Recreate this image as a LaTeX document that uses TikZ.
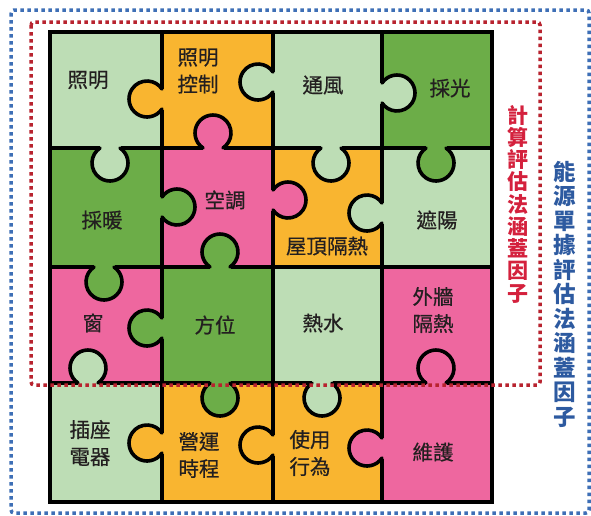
\documentclass[tikz,border=0pt]{standalone}
\usepackage{fontspec}
\setmainfont{Noto Sans CJK TC}
\newfontfamily\cellfont[FakeBold=0.6]{Noto Sans CJK TC}
\usetikzlibrary{calc}
\definecolor{lg}{HTML}{BDDDB5}
\definecolor{dg}{HTML}{6CAD48}
\definecolor{og}{HTML}{F9B530}
\definecolor{pk}{HTML}{EE679F}
\definecolor{txt}{HTML}{231F20}
\definecolor{redtxt}{HTML}{D4213D}
\definecolor{bluetxt}{HTML}{2D5AA0}
\definecolor{reddot}{HTML}{B8232F}
\definecolor{bluedot}{HTML}{3E6FB6}
\newcommand{\knob}[4]{%
  \fill[#4] ($(#1,#2)+(#3:15)$) circle[radius=18];
  \fill[#4] ($(#1,#2)+({#3+90}:10.5)+({#3+180}:2.5)$) -- ($(#1,#2)+({#3-90}:10.5)+({#3+180}:2.5)$)
    -- ($(#1,#2)+({#3-90}:10.5)+(#3:14)$) -- ($(#1,#2)+({#3+90}:10.5)+(#3:14)$) -- cycle;
  \draw[knobline] ($(#1,#2)+(#3:15)+({#3+180+33.56}:18)$)
    arc[start angle={#3+180+33.56}, end angle={#3+540-33.56}, radius=18];
}
\tikzset{
  lbl/.style={font=\cellfont\fontsize{20.5}{27}\selectfont, text=txt, align=center, inner sep=0pt},
  gridline/.style={line width=3.6pt, draw=black},
  knobline/.style={line width=3.6pt, line cap=round, draw=black},
  dotbox/.style={line width=3.5pt, dash pattern=on 3.5pt off 3.5pt, rounded corners=3pt},
}
\begin{document}
\begin{tikzpicture}[x=1pt,y=-1pt]
\useasboundingbox (0,0) rectangle (591,515);
\fill[white] (0,0) rectangle (591,515);
% cells
\fill[lg] (50,32) rectangle (162,148);
\fill[og] (162,32) rectangle (273,148);
\fill[lg] (273,32) rectangle (382,148);
\fill[dg] (382,32) rectangle (492,148);
\fill[dg] (50,148) rectangle (162,267);
\fill[pk] (162,148) rectangle (273,267);
\fill[og] (273,148) rectangle (382,267);
\fill[lg] (382,148) rectangle (492,267);
\fill[pk] (50,267) rectangle (162,383);
\fill[dg] (162,267) rectangle (273,383);
\fill[lg] (273,267) rectangle (382,383);
\fill[pk] (382,267) rectangle (492,383);
\fill[lg] (50,383) rectangle (162,502);
\fill[og] (162,383) rectangle (273,502);
\fill[og] (273,383) rectangle (382,502);
\fill[pk] (382,383) rectangle (492,502);
% grid
\draw[gridline] (162,32) -- (162,502);
\draw[gridline] (273,32) -- (273,502);
\draw[gridline] (382,32) -- (382,502);
\draw[gridline] (50,148) -- (492,148);
\draw[gridline] (50,267) -- (492,267);
\draw[gridline] (50,383) -- (492,383);
\draw[gridline] (50,32) rectangle (492,502);
% knobs
\knob{162}{99}{180}{og}
\knob{273}{82}{180}{lg}
\knob{382}{93}{0}{lg}
\knob{110}{148}{90}{lg}
\knob{213}{148}{270}{pk}
\knob{331}{148}{90}{lg}
\knob{436}{148}{90}{dg}
\knob{162}{207}{0}{dg}
\knob{273}{200}{0}{pk}
\knob{382}{213}{180}{lg}
\knob{104}{267}{90}{dg}
\knob{220}{267}{270}{dg}
\knob{162}{328}{180}{dg}
\knob{88}{383}{270}{lg}
\knob{220}{383}{90}{dg}
\knob{322}{383}{90}{lg}
\knob{436}{383}{270}{pk}
\knob{162}{443}{180}{og}
\knob{273}{445}{180}{og}
\knob{382}{448}{180}{pk}
% labels
\node[lbl] (t1) at (88,80) {照明};
\node[lbl] (t2) at (198,71) {照明\\控制};
\node[lbl] (t3) at (323,85) {通風};
\node[lbl] (t4) at (450,88) {採光};
\node[lbl] (t5) at (102,220) {採暖};
\node[lbl] (t6) at (225,200) {空調};
\node[lbl] (t7) at (327,246) {屋頂隔熱};
\node[lbl] (t8) at (437,220) {遮陽};
\node[lbl] (t9) at (93,323) {窗};
\node[lbl] (t10) at (215,325) {方位};
\node[lbl] (t11) at (323,323) {熱水};
\node[lbl] (t12) at (433,310) {外牆\\隔熱};
\node[lbl] (t13) at (90,443) {插座\\電器};
\node[lbl] (t14) at (199,455) {營運\\時程};
\node[lbl] (t15) at (310,453) {使用\\行為};
\node[lbl] (t16) at (433,452) {維護};
% dotted frames
\draw[dotbox, draw=bluedot] (11,10) rectangle (589,513);
\draw[dotbox, draw=reddot] (31,22) rectangle (540,385);
% vertical captions
\node[align=center, inner sep=0pt, text=redtxt, font=\fontsize{21}{22.25}\selectfont\bfseries] (cap1) at (518,204)
  {計\\算\\評\\估\\法\\涵\\蓋\\因\\子};
\node[align=center, inner sep=0pt, text=bluetxt, font=\fontsize{22.5}{24.5}\selectfont\bfseries] (cap2) at (565,294)
  {能\\源\\單\\據\\評\\估\\法\\涵\\蓋\\因\\子};
\end{tikzpicture}
\end{document}
